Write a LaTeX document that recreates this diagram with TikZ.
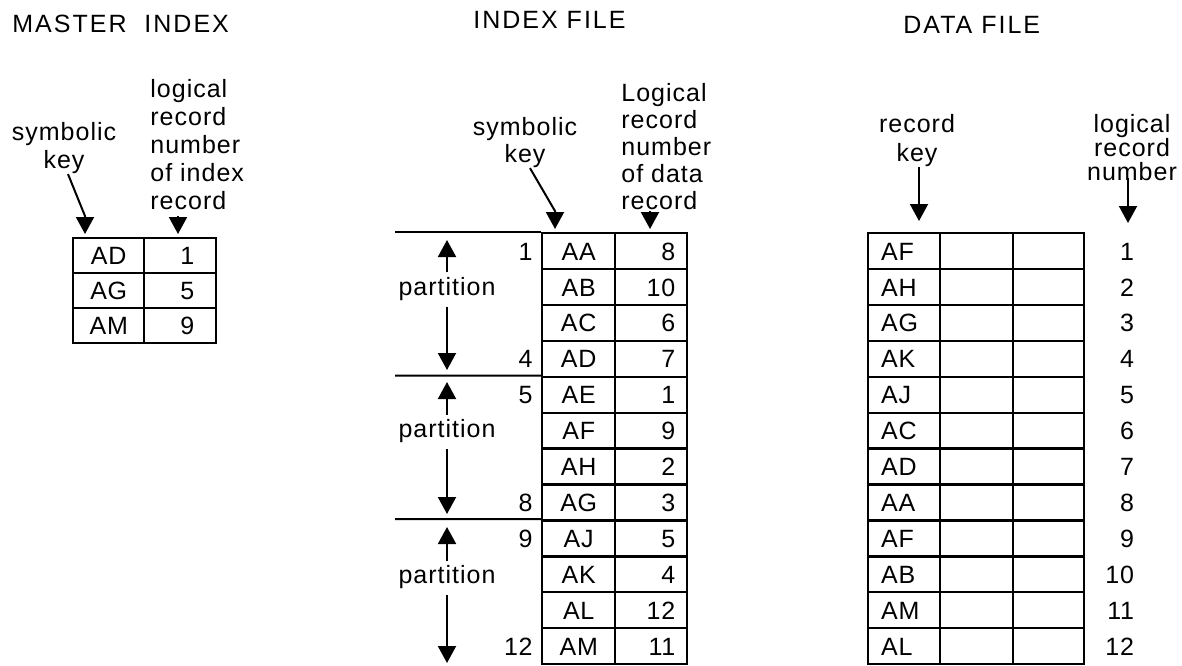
\documentclass[tikz,border=0pt]{standalone}
\usepackage{fontspec}
\setmainfont{Liberation Sans}
\usetikzlibrary{arrows.meta,calc}
\newcommand\tabf{\fontsize{12.5}{15}\selectfont\addfontfeature{LetterSpace=3}}
\newcommand\titf{\fontsize{12.5}{15}\selectfont\addfontfeature{LetterSpace=8}}
\newcommand\labf[1]{\fontsize{12.5}{#1}\selectfont\addfontfeature{LetterSpace=4}}
\begin{document}
\begin{tikzpicture}[x=0.5pt,y=-0.5pt,
  every node/.style={inner sep=0pt},
  cell/.style={draw, line width=1.2pt, anchor=north west, font=\tabf, text height=8.95pt, text depth=0pt, inner sep=0pt},
  mkeycell/.style={cell, minimum width=35.5pt, minimum height=17.5pt},
  mnumcell/.style={cell, minimum height=17.5pt, text width=14pt, inner xsep=11pt, align=right},
  ikeycell/.style={cell, minimum width=36.5pt, minimum height=17.95pt},
  inumcell/.style={cell, minimum height=17.95pt, text width=24pt, inner xsep=6pt, align=right},
  dkeycell/.style={cell, minimum height=17.95pt, text width=23pt, inner xsep=6.5pt, align=left},
  dblank/.style={cell, minimum height=17.95pt, minimum width=#1},
  rowlab/.style={font=\tabf, text height=8.95pt, text depth=0pt},
  title/.style={anchor=base west, font=\titf},
  lab/.style={font={\labf{#1}}},
  tri/.style={line width=1pt, -{Triangle[width=9pt,length=8.5pt]}},
  sepline/.style={line width=1pt},
]
\useasboundingbox (0,0) rectangle (1182,665);
\fill[white] (0,0) rectangle (1182,665);

% titles
\node[title] (tmaster) at (12,32) {MASTER\ \ INDEX};
\node[title] (tindex) at (473,28) {INDEX FILE};
\node[title] (tdata) at (903,33) {DATA FILE};

% ---------------- master index ----------------
\foreach \k/\n [count=\i] in {AD/1,AG/5,AM/9}{
  \pgfmathsetmacro\yy{237+(\i-1)*35}
  \node[mkeycell] (mk\i) at (72,\yy) {\k};
  \node[mnumcell] (mv\i) at (143,\yy) {\n};
}
\node[lab=14pt, anchor=north, align=center] (mkey) at (64,122) {symbolic\\key};
\node[lab=14pt, anchor=north west, align=left] (mlrn) at (150,79) {logical\\record\\number\\of index\\record};
\coordinate (mkt) at (85,234);
\coordinate (mnt) at (178,234);
\draw[tri] ([xshift=2pt]mkey.south) -- ($(mkt)+(0,-18)$) -- (mkt);
\draw[tri] ($(mnt)+(0,-18)$) -- (mnt);

% ---------------- index file ----------------
\foreach \k/\n [count=\i] in {AA/8,AB/10,AC/6,AD/7,AE/1,AF/9,AH/2,AG/3,AJ/5,AK/4,AL/12,AM/11}{
  \pgfmathsetmacro\yy{232+(\i-1)*35.9}
  \node[ikeycell] (ik\i) at (541,\yy) {\k};
  \node[inumcell] (iv\i) at (614,\yy) {\n};
}
\foreach \r in {1,4,5,8,9,12}{
  \node[rowlab, anchor=east] (il\r) at ([xshift=-4pt]ik\r.west) {\r};
}
\node[lab=13.5pt, anchor=north, align=center] (ikey) at (525,117) {symbolic\\key};
\node[lab=13.5pt, anchor=north west, align=left] (ilrn) at (621,83) {Logical\\record\\number\\of data\\record};
\coordinate (ikt) at (555,229);
\coordinate (int) at (650,229);
\draw[tri] ([xshift=2.5pt]ikey.south) -- ($(ikt)+(0,-18)$) -- (ikt);
\draw[tri] ($(int)+(0,-18)$) -- (int);

% partition separators
\coordinate (s1) at (395,232);
\coordinate (s2) at (395,375.6);
\coordinate (s3) at (395,519.2);
\draw[sepline] (s1) -- (ik1.north west);
\draw[sepline] (s2) -- (ik5.north west);
\draw[sepline] (s3) -- (ik9.north west);

% partitions
\node[lab=15pt, anchor=base] (p1) at (447,295) {partition};
\node[lab=15pt, anchor=base] (p2) at (447,437.5) {partition};
\node[lab=15pt, anchor=base] (p3) at (447,583.5) {partition};
\coordinate (pu1) at (447,240);
\coordinate (pd1) at (447,370);
\coordinate (pu2) at (447,382);
\coordinate (pd2) at (447,514);
\coordinate (pu3) at (447,527);
\coordinate (pd3) at (447,663);
\draw[tri] ([yshift=2pt]p1.north) -- (pu1);
\draw[tri] ([yshift=-3pt]p1.south) -- (pd1);
\draw[tri] ([yshift=2pt]p2.north) -- (pu2);
\draw[tri] ([yshift=-3pt]p2.south) -- (pd2);
\draw[tri] ([yshift=2pt]p3.north) -- (pu3);
\draw[tri] ([yshift=-3pt]p3.south) -- (pd3);

% ---------------- data file ----------------
\foreach \k [count=\i] in {AF,AH,AG,AK,AJ,AC,AD,AA,AF,AB,AM,AL}{
  \pgfmathsetmacro\yy{232+(\i-1)*35.9}
  \node[dkeycell] (dk\i) at (867,\yy) {\k};
  \node[dblank=36.5pt] (da\i) at (939,\yy) {};
  \node[dblank=35.5pt] (db\i) at (1012,\yy) {};
  \node[rowlab, anchor=east] (dn\i) at ([xshift=24.5pt]db\i.east) {\i};
}
\node[lab=14.5pt, anchor=north, align=center] (dkey) at (917,114) {record\\key};
\node[lab=12pt, anchor=north, align=center] (dnum) at (1132,114) {logical\\record\\number};
\coordinate (dkt) at (919,221);
\coordinate (dnt) at (1128,223);
\draw[tri] (dkey.south -| dkt) -- (dkt);
\draw[tri] ($(dnum.south -| dnt)+(0,-3)$) -- (dnt);
\end{tikzpicture}
\end{document}
